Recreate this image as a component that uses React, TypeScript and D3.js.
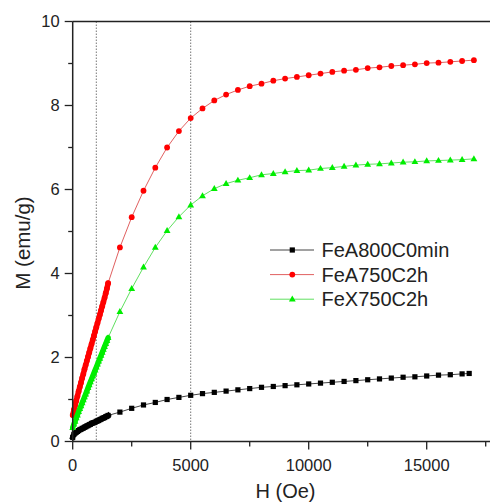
import React from "react";
import * as d3 from "d3";

// ---- data ----
const hDense = [0, 50, 100, 150, 200, 250, 300, 350, 400, 450, 500, 550, 600, 650, 700, 750, 800, 850, 900, 950, 1000, 1050, 1100, 1150, 1200, 1250, 1300, 1350, 1400, 1450, 1500];
const hSparse = [2000, 2500, 3000, 3500, 4000, 4500, 5000, 5500, 6000, 6500, 7000, 7500, 8000, 8500, 9000, 9500, 10000, 10500, 11000, 11500, 12000, 12500, 13000, 13500, 14000, 14500, 15000, 15500, 16000, 16500, 17000];
const hSparseBlack = [2000, 2500, 3000, 3500, 4000, 4500, 5000, 5500, 6000, 6500, 7000, 7500, 8000, 8500, 9000, 9500, 10000, 10500, 11000, 11500, 12000, 12500, 13000, 13500, 14000, 14500, 15000, 15500, 16000, 16500, 16800];

const blackDense = [0.1, 0.17, 0.2, 0.22, 0.24, 0.26, 0.28, 0.29, 0.31, 0.32, 0.34, 0.35, 0.37, 0.38, 0.4, 0.41, 0.43, 0.44, 0.45, 0.46, 0.48, 0.49, 0.5, 0.52, 0.53, 0.55, 0.56, 0.57, 0.59, 0.6, 0.62];
const blackSparse = [0.7, 0.79, 0.87, 0.93, 1.0, 1.05, 1.1, 1.14, 1.17, 1.2, 1.23, 1.26, 1.29, 1.31, 1.33, 1.35, 1.37, 1.39, 1.41, 1.43, 1.45, 1.47, 1.49, 1.51, 1.53, 1.54, 1.56, 1.58, 1.59, 1.61, 1.62];

const redDense = [0.63, 0.75, 0.86, 0.97, 1.08, 1.19, 1.3, 1.4, 1.51, 1.61, 1.72, 1.82, 1.92, 2.02, 2.12, 2.22, 2.32, 2.42, 2.52, 2.62, 2.72, 2.82, 2.92, 3.02, 3.12, 3.22, 3.32, 3.42, 3.53, 3.64, 3.77];
const redSparse = [4.62, 5.34, 5.97, 6.52, 7.0, 7.39, 7.7, 7.93, 8.12, 8.26, 8.37, 8.46, 8.52, 8.59, 8.64, 8.68, 8.72, 8.76, 8.8, 8.83, 8.85, 8.89, 8.91, 8.94, 8.96, 8.98, 9.01, 9.02, 9.04, 9.06, 9.08];

const greenDense = [0.33, 0.41, 0.48, 0.56, 0.63, 0.71, 0.78, 0.85, 0.92, 0.99, 1.06, 1.13, 1.2, 1.28, 1.35, 1.42, 1.49, 1.56, 1.63, 1.7, 1.77, 1.84, 1.91, 1.98, 2.05, 2.12, 2.19, 2.26, 2.33, 2.4, 2.47];
const greenSparse = [3.09, 3.64, 4.15, 4.62, 5.02, 5.35, 5.63, 5.85, 6.02, 6.14, 6.22, 6.28, 6.35, 6.38, 6.42, 6.45, 6.46, 6.5, 6.52, 6.55, 6.58, 6.6, 6.61, 6.63, 6.65, 6.66, 6.68, 6.69, 6.7, 6.71, 6.73];

const seriesNames = ["FeA800C0min", "FeA750C2h", "FeX750C2h"];
const xTicks = [0, 5000, 10000, 15000];
const yTicks = [0, 2, 4, 6, 8, 10];
const refLines = [1000, 5000];

const W = 490;
const H = 503;
const x = d3.scaleLinear().domain([0, 18000]).range([72.7, 72.7 + 18000 * 0.0236]);
const y = d3.scaleLinear().domain([0, 10]).range([441.5, 21.5]);

type Pt = { h: number; m: number };
const zip = (hs: number[], ms: number[]): Pt[] => hs.map((h, i) => ({ h, m: ms[i] }));

const series = [
  { name: seriesNames[0], dense: zip(hDense, blackDense), pts: [...zip(hDense, blackDense), ...zip(hSparseBlack, blackSparse)], color: "#000000", line: "#444444", shape: "square", band: 5.2 },
  { name: seriesNames[1], dense: zip(hDense, redDense), pts: [...zip(hDense, redDense), ...zip(hSparse, redSparse)], color: "#ff0000", line: "#e06060", shape: "circle", band: 5.4 },
  { name: seriesNames[2], dense: zip(hDense, greenDense), pts: [...zip(hDense, greenDense), ...zip(hSparse, greenSparse)], color: "#00ee00", line: "#60e060", shape: "triangle", band: 5.4 },
];

const line = d3.line<Pt>().x((d) => x(d.h)).y((d) => y(d.m));

function Marker({ cx, cy, shape, color }: { cx: number; cy: number; shape: string; color: string }) {
  if (shape === "square") return <rect x={cx - 2.6} y={cy - 2.6} width={5.2} height={5.2} fill={color} />;
  if (shape === "circle") return <circle cx={cx} cy={cy} r={2.9} fill={color} />;
  const s = 3.6;
  return <path d={`M${cx},${cy - s}L${cx + s * 0.95},${cy + s * 0.65}L${cx - s * 0.95},${cy + s * 0.65}Z`} fill={color} />;
}

export default function App() {
  const font = "'Liberation Sans', Arial, sans-serif";
  const x0 = x(0);
  const yMinor = d3.range(1, 10, 2);
  const xMinor = d3.range(2500, 18000, 5000);
  return (
    <svg width={W} height={H} style={{ position: "absolute", left: 0, top: 0, background: "#fff" }} fontFamily={font}>
      <rect x={0} y={0} width={W} height={H} fill="#fff" />
      {refLines.map((r) => (
        <line key={r} x1={x(r)} x2={x(r)} y1={y(10)} y2={y(0)} stroke="#777" strokeWidth={1} strokeDasharray="1.5,1.5" />
      ))}
      {series.map((s) => (
        <g key={s.name}>
          <path d={line(s.pts) || ""} fill="none" stroke={s.line} strokeWidth={1} />
          <path d={line(s.dense) || ""} fill="none" stroke={s.color} strokeWidth={s.band} strokeLinecap={s.shape === "square" ? "square" : "round"} strokeLinejoin="round" />
          {s.pts.map((p, i) => (
            <Marker key={i} cx={x(p.h)} cy={y(p.m)} shape={s.shape} color={s.color} />
          ))}
        </g>
      ))}
      {/* axes */}
      <line x1={x0} x2={x0} y1={y(10)} y2={y(0)} stroke="#222" strokeWidth={1.5} />
      <line x1={x0} x2={W} y1={y(0)} y2={y(0)} stroke="#222" strokeWidth={1.5} />
      <line x1={x0} x2={W} y1={y(10)} y2={y(10)} stroke="#222" strokeWidth={1.5} />
      {yTicks.map((t) => (
        <g key={t}>
          <line x1={x0 - 8} x2={x0} y1={y(t)} y2={y(t)} stroke="#222" strokeWidth={1.3} />
          <text x={x0 - 13} y={y(t)} dy="0.36em" textAnchor="end" fontSize={16.5} fill="#222">{t}</text>
        </g>
      ))}
      {yMinor.map((t) => (
        <line key={t} x1={x0 - 4.5} x2={x0} y1={y(t)} y2={y(t)} stroke="#222" strokeWidth={1.3} />
      ))}
      {xTicks.map((t) => (
        <g key={t}>
          <line x1={x(t)} x2={x(t)} y1={y(0)} y2={y(0) + 8} stroke="#222" strokeWidth={1.3} />
          <text x={x(t)} y={470.5} textAnchor="middle" fontSize={16.5} fill="#222">{t}</text>
        </g>
      ))}
      {xMinor.map((t) => (
        <line key={t} x1={x(t)} x2={x(t)} y1={y(0)} y2={y(0) + 5} stroke="#222" strokeWidth={1.3} />
      ))}
      <text x={285.5} y={498} textAnchor="middle" fontSize={20} fill="#222">H (Oe)</text>
      <text transform="translate(30,243) rotate(-90)" textAnchor="middle" fontSize={20.5} fill="#222">M (emu/g)</text>
      {/* legend */}
      {series.map((s, i) => {
        const ly = 250 + i * 24.6;
        return (
          <g key={s.name}>
            <line x1={270} x2={314} y1={ly} y2={ly} stroke={s.line} strokeWidth={1} />
            <Marker cx={292.3} cy={ly} shape={s.shape} color={s.color} />
            <text x={321.5} y={ly} dy="0.36em" fontSize={20} fill="#222">{s.name}</text>
          </g>
        );
      })}
    </svg>
  );
}
